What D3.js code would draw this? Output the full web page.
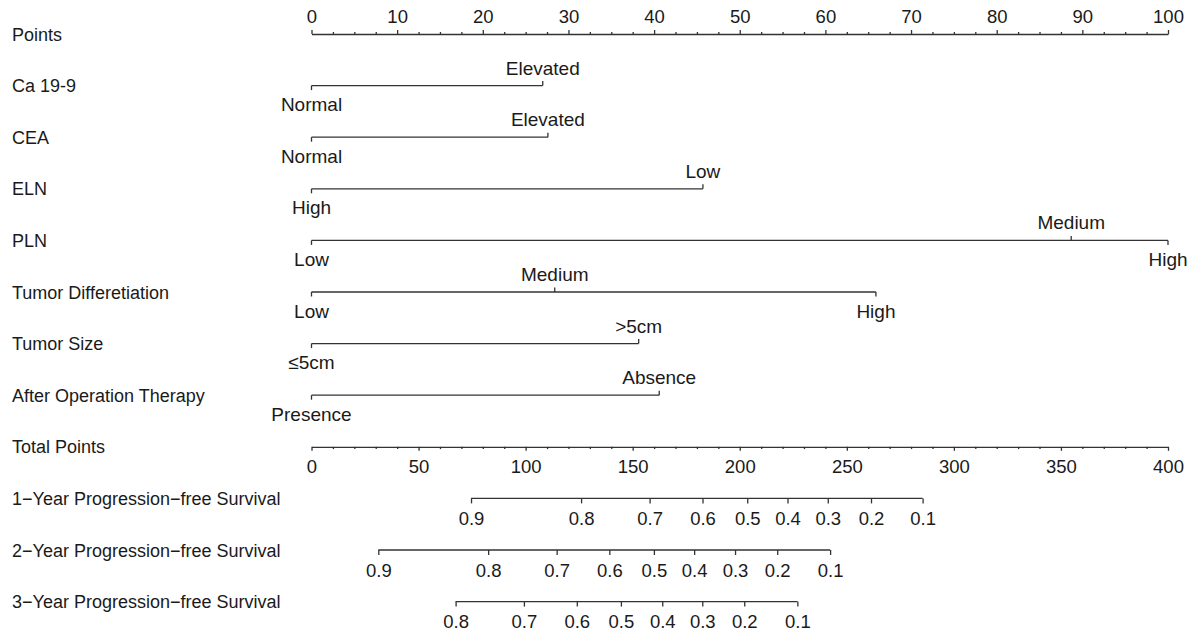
<!DOCTYPE html>
<html>
<head>
	<meta charset="utf-8">
	<title>Nomogram</title>
	<style>
		body { margin: 0; background: #fff; }
		svg text { font-family: Arial, "Liberation Sans", sans-serif; fill: #1a1a1a; }
		.axis path, .axis line, .row line { stroke: #333; stroke-width: 1.3; }
		.axis text { font-size: 18.5px; }
	</style>
</head>
<body>
	<div id="chart"></div>
	<script src="https://cdn.jsdelivr.net/npm/d3@7"></script>
	<script>
		// axis tick labels
		const pointTicks = [0, 10, 20, 30, 40, 50, 60, 70, 80, 90, 100];
		const totalTicks = [0, 50, 100, 150, 200, 250, 300, 350, 400];

		// predictors: level names and their points
		const predictorNames = ["Ca 19-9", "CEA", "ELN", "PLN", "Tumor Differetiation", "Tumor Size", "After Operation Therapy"];
		const ca199Levels = ["Normal", "Elevated"];
		const ca199Points = [0, 27];
		const ceaLevels = ["Normal", "Elevated"];
		const ceaPoints = [0, 27.6];
		const elnLevels = ["High", "Low"];
		const elnPoints = [0, 45.7];
		const plnLevels = ["Low", "Medium", "High"];
		const plnPoints = [0, 88.7, 100];
		const diffLevels = ["Low", "Medium", "High"];
		const diffPoints = [0, 28.4, 65.9];
		const sizeLevels = ["≤5cm", ">5cm"];
		const sizePoints = [0, 38.2];
		const therapyLevels = ["Presence", "Absence"];
		const therapyPoints = [0, 40.6];

		// survival scales: probability labels and total points where they sit
		const survivalNames = ["1\u2212Year Progression\u2212free Survival", "2\u2212Year Progression\u2212free Survival", "3\u2212Year Progression\u2212free Survival"];
		const surv1Probs = [0.9, 0.8, 0.7, 0.6, 0.5, 0.4, 0.3, 0.2, 0.1];
		const surv1Points = [74.5, 125.9, 157.9, 182.6, 203.5, 222.3, 241.1, 261.3, 285.4];
		const surv2Probs = [0.9, 0.8, 0.7, 0.6, 0.5, 0.4, 0.3, 0.2, 0.1];
		const surv2Points = [31.2, 82.5, 114.5, 139.1, 159.9, 178.7, 197.8, 217.5, 242.2];
		const surv3Probs = [0.8, 0.7, 0.6, 0.5, 0.4, 0.3, 0.2, 0.1];
		const surv3Points = [67.3, 99.2, 123.9, 144.5, 163.8, 182.5, 202.1, 226.9];

		const width = 1193, height = 634;
		const x0 = 311.5, x1 = 1168;
		const rowTop = 34, rowStep = 51.6;
		const rowY = i => rowTop + rowStep * i;

		const xPts = d3.scaleLinear().domain([0, 100]).range([x0, x1]);
		const xTot = d3.scaleLinear().domain([0, 400]).range([x0, x1]);

		const svg = d3.select('#chart').append('svg')
			.attr('width', width)
			.attr('height', height);

		// left-hand row labels
		const leftLabels = ["Points"].concat(predictorNames, ["Total Points"], survivalNames);
		svg.selectAll('text.rowlab').data(leftLabels).enter().append('text')
			.attr('class', 'rowlab')
			.attr('x', 12)
			.attr('y', (d, i) => rowY(i) + 6.5)
			.style('font-size', '18px')
			.text(d => d);

		// Points axis (ticks up, labels above)
		const minor = d3.range(0, 100.1, 2.5).filter(v => v % 10 !== 0);
		svg.append('g').attr('class', 'axis')
			.attr('transform', `translate(0, ${rowY(0)})`)
			.call(d3.axisTop(xPts).tickValues(minor).tickSize(2).tickFormat(''))
			.call(g => g.select('.domain').remove());
		svg.append('g').attr('class', 'axis')
			.attr('transform', `translate(0, ${rowY(0)})`)
			.call(d3.axisTop(xPts).tickValues(pointTicks).tickSize(4).tickSizeOuter(0).tickPadding(7.5));

		// predictor rows
		const predictors = [
			[ca199Levels, ca199Points],
			[ceaLevels, ceaPoints],
			[elnLevels, elnPoints],
			[plnLevels, plnPoints],
			[diffLevels, diffPoints],
			[sizeLevels, sizePoints],
			[therapyLevels, therapyPoints]
		];
		predictors.forEach(([levels, pts], r) => {
			const y = rowY(r + 1);
			const g = svg.append('g').attr('class', 'row');
			g.append('line')
				.attr('x1', xPts(d3.min(pts))).attr('x2', xPts(d3.max(pts)))
				.attr('y1', y).attr('y2', y);
			const items = levels.map((l, i) => ({ l, p: pts[i] })).sort((a, b) => a.p - b.p);
			items.forEach((d, i) => {
				const up = i % 2 === 1;
				g.append('line')
					.attr('x1', xPts(d.p)).attr('x2', xPts(d.p))
					.attr('y1', y).attr('y2', up ? y - 4.5 : y + 4.5);
				g.append('text')
					.attr('x', xPts(d.p))
					.attr('y', up ? y - 11 : y + 25.5)
					.attr('text-anchor', 'middle')
					.style('font-size', '19px')
					.text(d.l);
			});
		});

		// Total points axis (ticks down, labels below)
		const totMinor = d3.range(0, 401, 10).filter(v => v % 50 !== 0);
		svg.append('g').attr('class', 'axis')
			.attr('transform', `translate(0, ${rowY(8)})`)
			.call(d3.axisBottom(xTot).tickValues(totMinor).tickSize(2.3).tickFormat(''))
			.call(g => g.select('.domain').remove());
		svg.append('g').attr('class', 'axis')
			.attr('transform', `translate(0, ${rowY(8)})`)
			.call(d3.axisBottom(xTot).tickValues(totalTicks).tickSize(4).tickSizeOuter(0).tickPadding(9));

		// survival axes
		const survivals = [[surv1Probs, surv1Points], [surv2Probs, surv2Points], [surv3Probs, surv3Points]];
		survivals.forEach(([probs, pts], i) => {
			const y = rowY(9 + i);
			svg.append('g').attr('class', 'axis')
				.attr('transform', `translate(0, ${y})`)
				.call(d3.axisBottom(xTot).tickValues(pts).tickSize(5).tickSizeOuter(0).tickPadding(8.5)
					.tickFormat((d, k) => probs[k].toFixed(1)))
				.call(g => g.select('.domain').attr('d', `M${xTot(d3.min(pts))},0H${xTot(d3.max(pts))}`));
		});

		svg.selectAll('.axis .tick line').attr('stroke', '#333');
	</script>
</body>
</html>
